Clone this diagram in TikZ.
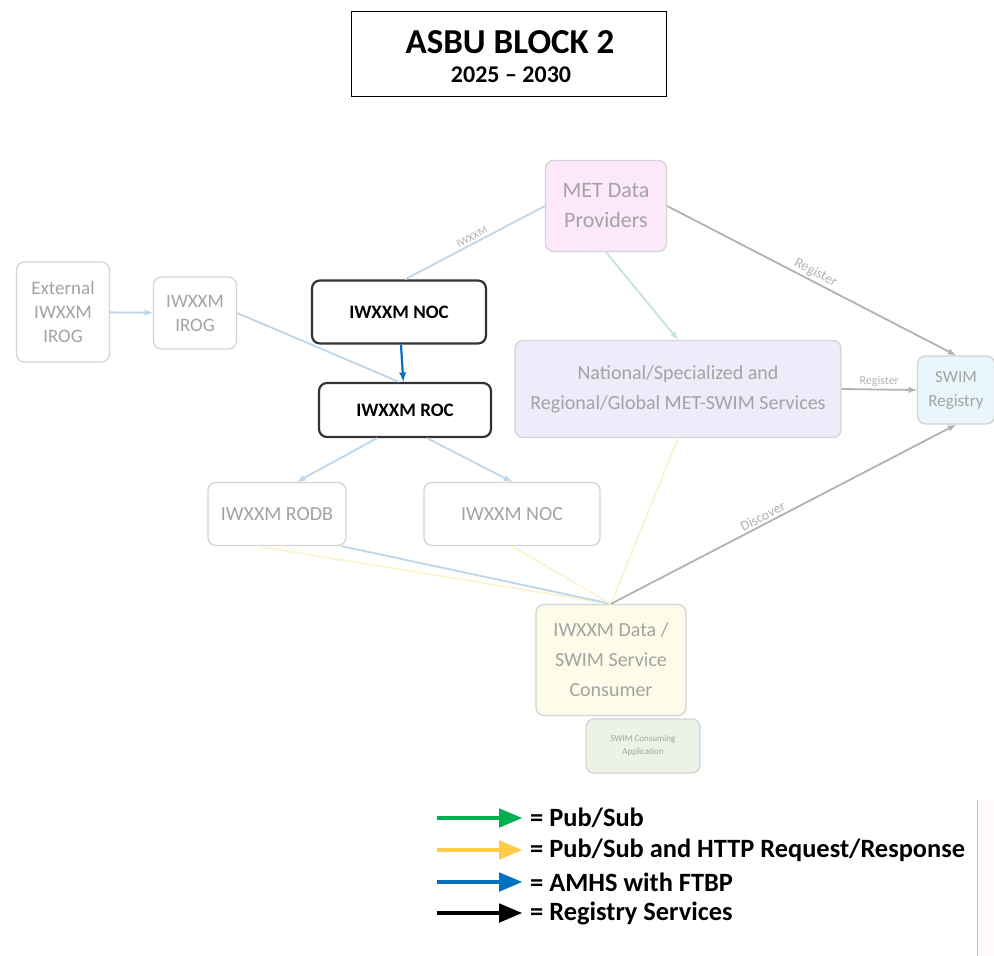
\documentclass[tikz,border=0pt]{standalone}
\usepackage{fontspec}
\setmainfont{Carlito}
\usetikzlibrary{arrows}
\definecolor{MP}{RGB}{252,232,250}
\definecolor{NS}{RGB}{239,235,251}
\definecolor{SR}{RGB}{233,246,252}
\definecolor{CO}{RGB}{252,252,232}
\definecolor{CA}{RGB}{236,243,230}
\definecolor{FB}{RGB}{190,214,234}
\definecolor{FG}{RGB}{178,178,178}
\definecolor{FY}{RGB}{250,244,212}
\definecolor{FT}{RGB}{196,228,222}
\definecolor{LG}{RGB}{0,176,80}
\definecolor{LY}{RGB}{255,204,72}
\definecolor{LB}{RGB}{0,112,192}
\tikzset{
  faded/.style={draw=black!17, rounded corners=8pt, line width=1.3pt, text=black!36,
    align=center, inner sep=0pt, font=\fontsize{19}{24}\selectfont},
  darkbox/.style={draw=black!80, rounded corners=8pt, line width=2.2pt, inner sep=0pt,
    font=\bfseries\fontsize{19}{22}\selectfont},
  fline/.style={line width=1.8pt},
  lbl/.style={text=black!30, font=\fontsize{11}{13}\selectfont, inner sep=2pt}
}
\begin{document}
\begin{tikzpicture}[x=1pt,y=-1pt]
  \useasboundingbox (0,0) rectangle (994,956);
  \fill[white] (0,0) rectangle (994,956);

  % title
  \node[draw, line width=1.5pt, minimum width=315, minimum height=85] (title) at (509,54) {};
  \node[font=\bfseries\fontsize{35}{38}\selectfont, inner sep=0pt] (ttl1) at (510,42) {ASBU BLOCK 2};
  \node[font=\bfseries\fontsize{24}{26}\selectfont, inner sep=0pt] (ttl2) at (511,75) {2025 -- 2030};

  % boxes
  \node[faded, minimum width=93, minimum height=100] (ext) at (63,312) {External\\IWXXM\\IROG};
  \node[faded, minimum width=83, minimum height=72] (irog) at (195,313) {IWXXM\\IROG};
  \node[darkbox, minimum width=174, minimum height=63] (noc) at (399,312) {IWXXM NOC};
  \node[darkbox, minimum width=172, minimum height=54] (roc) at (405,410) {IWXXM ROC};
  \node[faded, fill=MP, minimum width=121, minimum height=91, font=\fontsize{22}{30}\selectfont] (met) at (606,206) {MET Data\\Providers};
  \node[faded, fill=NS, minimum width=326, minimum height=97, font=\fontsize{20}{30}\selectfont] (nat) at (678,389)
    {National/Specialized and\\Regional/Global MET-SWIM Services};
  \node[faded, fill=SR, minimum width=77, minimum height=68, font=\fontsize{17}{24}\selectfont] (reg) at (956,390) {SWIM\\Registry};
  \node[faded, minimum width=138, minimum height=63, font=\fontsize{20}{24}\selectfont] (rodb) at (277,514) {IWXXM RODB};
  \node[faded, minimum width=176, minimum height=63, font=\fontsize{20}{24}\selectfont] (noc2) at (512,514) {IWXXM NOC};
  \node[faded, fill=CO, minimum width=150, minimum height=111, font=\fontsize{20}{30}\selectfont] (cons) at (611,660)
    {IWXXM Data /\\SWIM Service\\Consumer};
  \node[faded, fill=CA, minimum width=114, minimum height=54, font=\fontsize{9}{13}\selectfont] (app) at (643,746)
    {SWIM Consuming\\Application};

  % connectors
  \draw[fline, FB, -latex] (ext) -- (irog);
  \draw[fline, FB] (irog.east) -- ([xshift=-6]roc.north);
  \draw[line width=2.2pt, LB, -latex] (noc) -- (roc);
  \draw[fline, FB] ([xshift=6]noc.north) -- (met.west)
    node[lbl, midway, sloped, above] {IWXXM};
  \draw[fline, FT, -latex] (met.south) -- (nat.north);
  \draw[fline, FG, -latex] (met.east) -- (reg.north)
    node[lbl, pos=0.5, sloped, above, font=\fontsize{14}{16}\selectfont] {Register};
  \draw[fline, FG, -latex] (nat.east) -- (reg.west)
    node[lbl, midway, above, font=\fontsize{12}{14}\selectfont] {Register};
  \draw[fline, FB, -latex] ([xshift=-28]roc.south) -- ([xshift=20]rodb.north);
  \draw[fline, FB, -latex] ([xshift=22]roc.south) -- (noc2.north);
  \draw[fline, FY] ([xshift=-20]rodb.south) -- (cons.north);
  \draw[fline, FB] ([xshift=-5]rodb.south east) -- (cons.north);
  \draw[fline, FY] (noc2.south) -- (cons.north);
  \draw[fline, FY] (nat.south) -- (cons.north);
  \draw[fline, FG, -latex] (cons.north) -- (reg.south)
    node[lbl, pos=0.45, sloped, above, font=\fontsize{14}{16}\selectfont] {Discover};

  % legend
  \foreach \c/\t/\y [count=\i] in {LG/{= Pub/Sub}/818, LY/{= Pub/Sub and HTTP Request/Response}/850,
      LB/{= AMHS with FTBP}/882, black/{= Registry Services}/913} {
    \coordinate (ls\i) at (437,\y);
    \node[anchor=west, inner sep=0pt, font=\bfseries\fontsize{26.4}{28}\selectfont] (lt\i) at (530,\y) {\t};
    \draw[line width=4.5pt, \c, -triangle 45, shorten >=8pt] (ls\i) -- (lt\i.west);
  }

  % page edge at right
  \fill[pink!7] (977,800) rectangle (994,956);
  \draw[black!25, line width=1pt] (977,800) -- (977,956);
\end{tikzpicture}
\end{document}
